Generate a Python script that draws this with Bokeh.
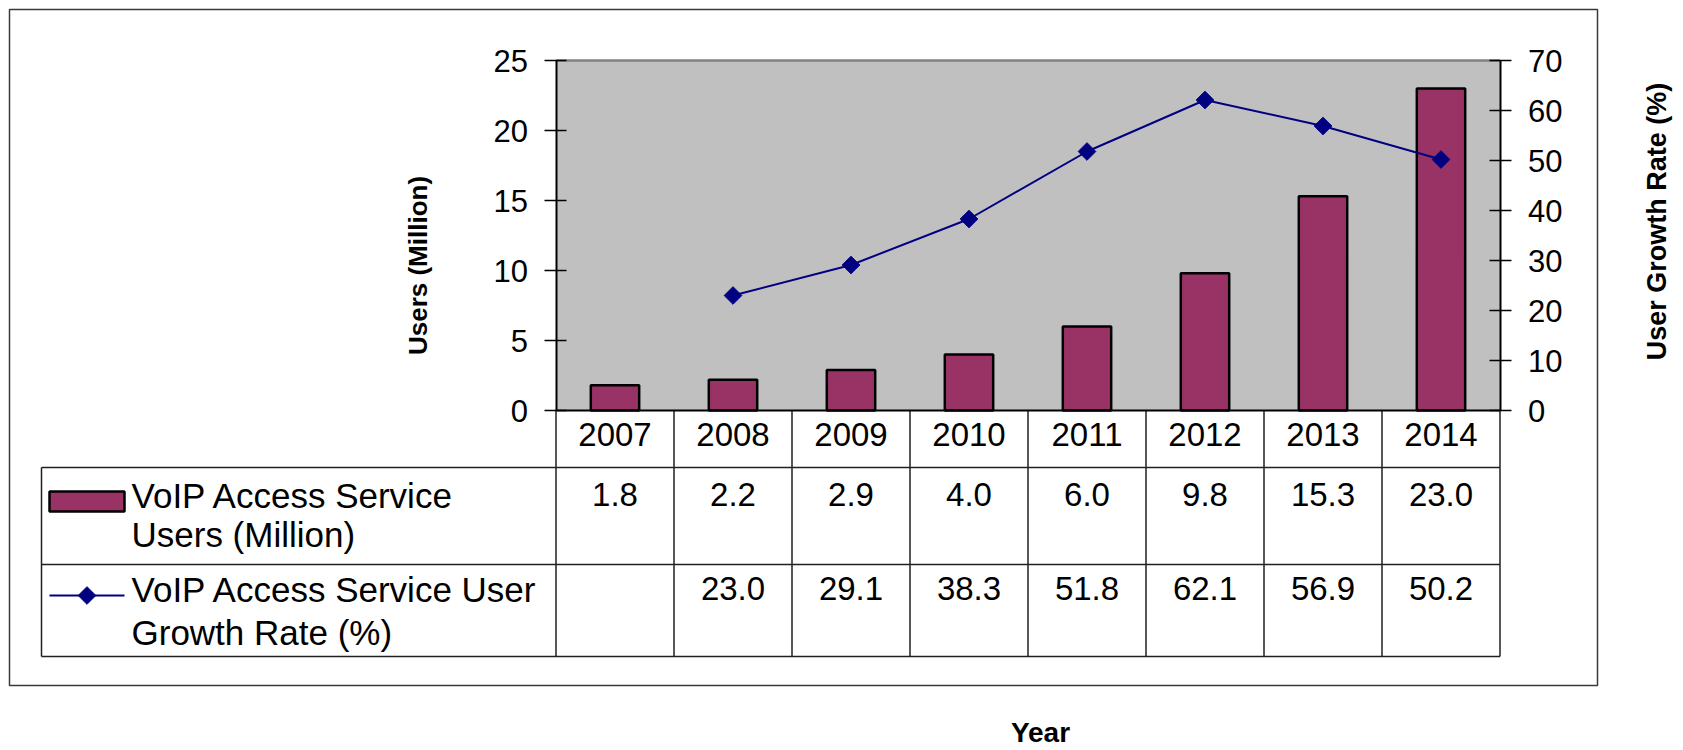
import math
from bokeh.plotting import figure
from bokeh.models import Range1d, LinearAxis, FixedTicker
from bokeh.embed import file_html
from bokeh.resources import INLINE
from bokeh.core.properties import value

# ---------------- data ----------------
years = ["2007", "2008", "2009", "2010", "2011", "2012", "2013", "2014"]
users = [1.8, 2.2, 2.9, 4.0, 6.0, 9.8, 15.3, 23.0]
growth = [None, 23.0, 29.1, 38.3, 51.8, 62.1, 56.9, 50.2]
users_ticks = [0, 5, 10, 15, 20, 25]
growth_ticks = [0, 10, 20, 30, 40, 50, 60, 70]
series_users = ["VoIP Access Service", "Users (Million)"]
series_growth = ["VoIP Access Service User", "Growth Rate (%)"]
left_title = "Users (Million)"
right_title = "User Growth Rate (%)"
x_title = "Year"

# ---------------- layout (page pixels) ----------------
OFF = 0
W, H = 1683, 750
PL, PR, PT, PB = 555.5, 1499.5, 60.0, 410.0
NCOL = len(years)
COLW = (PR - PL) / NCOL
UMAX, GMAX = users_ticks[-1], growth_ticks[-1]

FONT = "Liberation Sans"
BAR = "#993366"
NAVY = "#000080"

x_start = (OFF - PL) / COLW
x_end = (OFF + W - PL) / COLW
u_start = (PB - (OFF + H)) * UMAX / (PB - PT)
u_end = (PB - OFF) * UMAX / (PB - PT)
g_start = (PB - (OFF + H)) * GMAX / (PB - PT)
g_end = (PB - OFF) * GMAX / (PB - PT)

p = figure(width=W, height=H, output_backend="svg", toolbar_location=None,
           x_axis_type=None, y_axis_type=None, title=None,
           x_range=Range1d(x_start, x_end), y_range=Range1d(u_start, u_end),
           min_border=0, min_border_left=0, min_border_right=0,
           min_border_top=0, min_border_bottom=0)
p.outline_line_color = None
p.background_fill_color = "white"
p.border_fill_color = "white"
p.grid.visible = False
p.extra_x_ranges = {"px": Range1d(OFF, OFF + W)}
p.extra_y_ranges = {"px": Range1d(OFF + H, OFF), "growth": Range1d(g_start, g_end)}

# outer chart border
p.quad(left=[9], right=[1597], top=[9], bottom=[685], x_range_name="px", y_range_name="px",
       fill_color=None, line_color="#3a3a3a", line_width=1.5)

# plot area
p.quad(left=[0], right=[NCOL], bottom=[0], top=[UMAX], fill_color="#C0C0C0", line_color=None)
p.segment(x0=[0], x1=[NCOL], y0=[UMAX], y1=[UMAX], line_color="#808080", line_width=2.5)

# bars
xs = [i + 0.5 for i in range(NCOL)]
p.vbar(x=xs, top=users, bottom=0, width=0.41, fill_color=BAR, line_color="black", line_width=2.5)

# growth line
gx = [i + 0.5 for i, g in enumerate(growth) if g is not None]
gy = [g for g in growth if g is not None]
p.line(gx, gy, y_range_name="growth", line_color=NAVY, line_width=2)
p.scatter(gx, gy, y_range_name="growth", marker="square", angle=math.pi / 4, size=12.5,
          fill_color=NAVY, line_color=NAVY)

# axes
la = LinearAxis(fixed_location=0, bounds=(0, UMAX), ticker=FixedTicker(ticks=users_ticks))
la.major_tick_in = 10
la.major_tick_out = 12
la.minor_tick_line_color = None
la.major_label_standoff = 16
la.major_label_text_font = FONT
la.major_label_text_font_size = "31px"
la.major_label_text_color = "black"
la.axis_line_width = 2
la.major_tick_line_width = 1.5
p.add_layout(la, "left")

ra = LinearAxis(fixed_location=NCOL, bounds=(0, GMAX), y_range_name="growth",
                ticker=FixedTicker(ticks=growth_ticks))
ra.major_tick_in = 11
ra.major_tick_out = 11
ra.minor_tick_line_color = None
ra.major_label_standoff = 17
ra.major_label_text_font = FONT
ra.major_label_text_font_size = "31px"
ra.major_label_text_color = "black"
ra.axis_line_width = 2
ra.major_tick_line_width = 1.5
p.add_layout(ra, "right")

ba = LinearAxis(fixed_location=0, bounds=(0, NCOL), ticker=FixedTicker(ticks=xs),
                major_label_overrides={x: y for x, y in zip(xs, years)})
ba.major_tick_in = 0
ba.major_tick_out = 0
ba.minor_tick_line_color = None
ba.major_label_standoff = 12
ba.major_label_text_font = FONT
ba.major_label_text_font_size = "33px"
ba.major_label_text_color = "black"
ba.axis_line_width = 2
p.add_layout(ba, "below")

# data table grid
T_TOP, R1, R2, T_BOT = PB, 467.0, 564.0, 656.0
LEG_L = 41.0
bounds_x = list(range(NCOL + 1))
p.segment(x0=bounds_x, x1=bounds_x, y0=[T_TOP] * len(bounds_x), y1=[T_BOT] * len(bounds_x),
          y_range_name="px", line_color="#202020", line_width=1.5)
p.segment(x0=[LEG_L], x1=[LEG_L], y0=[R1], y1=[T_BOT],
          x_range_name="px", y_range_name="px", line_color="#202020", line_width=1.5)
p.segment(x0=[LEG_L] * 3, x1=[PR] * 3, y0=[R1, R2, T_BOT], y1=[R1, R2, T_BOT],
          x_range_name="px", y_range_name="px", line_color="#202020", line_width=1.5)

# table values
p.text(x=xs, y=[494] * NCOL, text=[f"{v:.1f}" for v in users], y_range_name="px",
       text_align="center", text_baseline="middle", text_font=value(FONT),
       text_font_size="33px", text_color="black")
p.text(x=gx, y=[588] * len(gx), text=[f"{v:.1f}" for v in gy], y_range_name="px",
       text_align="center", text_baseline="middle", text_font=value(FONT),
       text_font_size="33px", text_color="black")

# legend keys
p.quad(left=[49], right=[124], top=[491], bottom=[511], x_range_name="px", y_range_name="px",
       fill_color=BAR, line_color="black", line_width=2.5)
p.segment(x0=[49], x1=[124], y0=[595], y1=[595], x_range_name="px", y_range_name="px",
          line_color=NAVY, line_width=2)
p.scatter([86.5], [595], x_range_name="px", y_range_name="px", marker="square",
          angle=math.pi / 4, size=12.5, fill_color=NAVY, line_color=NAVY)

leg_lines = series_users + series_growth
p.text(x=[131] * 4, y=[494.5, 533.5, 588.5, 631.5], text=leg_lines, x_range_name="px",
       y_range_name="px", text_align="left", text_baseline="middle", text_font=value(FONT),
       text_font_size="35px", text_color="black")

# axis titles
p.text(x=[417], y=[265], text=[left_title], x_range_name="px", y_range_name="px", angle=math.pi / 2,
       text_align="center", text_baseline="middle", text_font=value(FONT),
       text_font_size="26px", text_font_style="bold", text_color="black")
p.text(x=[1656], y=[221], text=[right_title], x_range_name="px", y_range_name="px", angle=math.pi / 2,
       text_align="center", text_baseline="middle", text_font=value(FONT),
       text_font_size="27px", text_font_style="bold", text_color="black")
p.text(x=[1040], y=[732], text=[x_title], x_range_name="px", y_range_name="px",
       text_align="center", text_baseline="middle", text_font=value(FONT),
       text_font_size="28px", text_font_style="bold", text_color="black")

open("out.html", "w").write(file_html(p, INLINE))
